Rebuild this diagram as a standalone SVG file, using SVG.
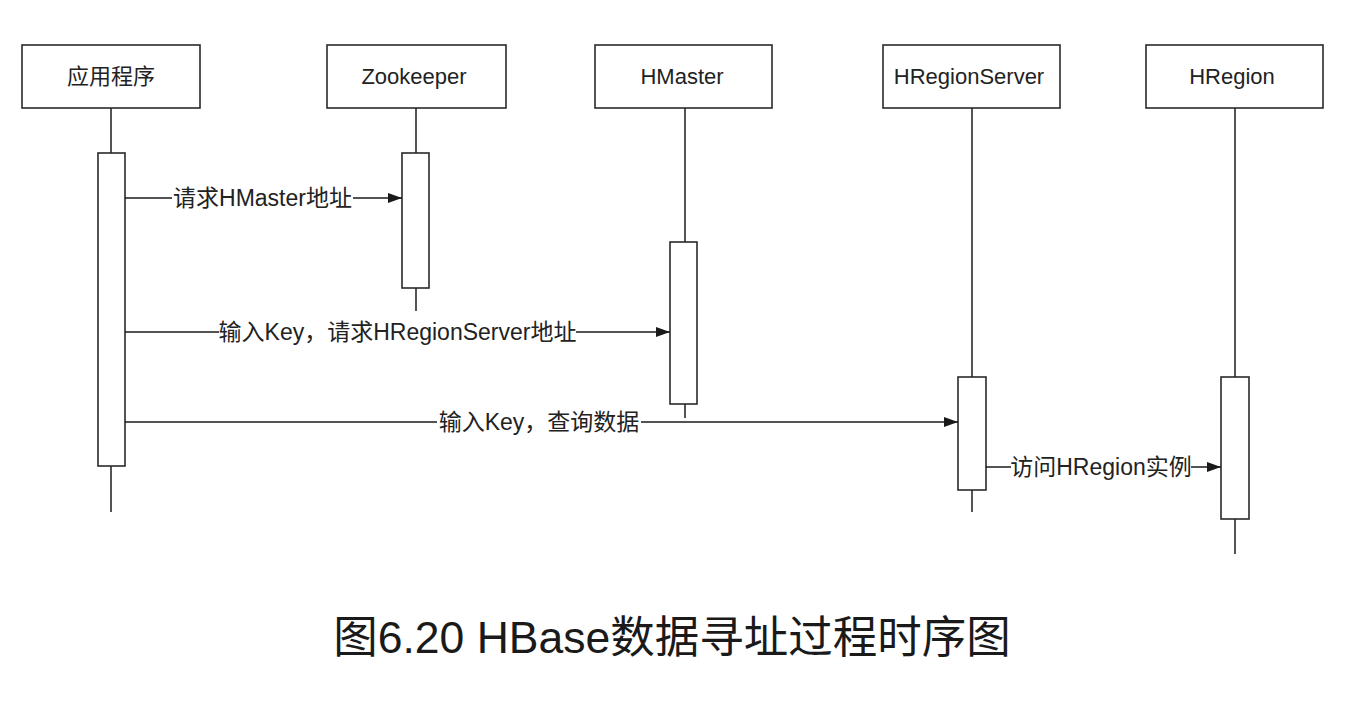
<svg xmlns="http://www.w3.org/2000/svg" width="1372" height="712" viewBox="0 0 1372 712">
<style>
.box{fill:#fff;stroke:#2a2a2a;stroke-width:1.6}
.life{stroke:#2a2a2a;stroke-width:1.6;fill:none}
.act{fill:#fff;stroke:#2a2a2a;stroke-width:1.6}
.msg{stroke:#1a1a1a;stroke-width:1.6;fill:none}
.t{font-family:"Liberation Sans","Noto Sans CJK SC",sans-serif;font-size:22px;fill:#222;text-anchor:middle}
.m{font-family:"Liberation Sans","Noto Sans CJK SC",sans-serif;font-size:23px;fill:#222;text-anchor:middle}
.bg{fill:#fff}
.title{font-family:"Liberation Sans","Noto Sans CJK SC",sans-serif;font-size:44.5px;fill:#1a1a1a;text-anchor:middle}
</style>
<defs>
<marker id="arr" viewBox="0 0 14 10" refX="14" refY="5" markerWidth="14" markerHeight="10" markerUnits="userSpaceOnUse" orient="auto">
<path d="M0,0 L14,5 L0,10 z" fill="#1a1a1a"/>
</marker>
</defs>
<rect width="1372" height="712" fill="#fff"/>

<g id="app">
<line class="life" x1="111" y1="108" x2="111" y2="512"/>
<rect class="box" x="22" y="45" width="178" height="63"/>
<text class="t" x="111" y="84">应用程序</text>
<rect class="act" x="98" y="153" width="27" height="313"/>
</g>
<g id="zookeeper">
<line class="life" x1="416" y1="108" x2="416" y2="311"/>
<rect class="box" x="327" y="45" width="179" height="63"/>
<text class="t" x="414" y="84">Zookeeper</text>
<rect class="act" x="402" y="153" width="27" height="135"/>
</g>
<g id="hmaster">
<line class="life" x1="685" y1="108" x2="685" y2="418"/>
<rect class="box" x="595" y="45" width="177" height="63"/>
<text class="t" x="682" y="84">HMaster</text>
<rect class="act" x="670" y="242" width="27" height="162"/>
</g>
<g id="hregionserver">
<line class="life" x1="972" y1="108" x2="972" y2="512"/>
<rect class="box" x="883" y="45" width="177" height="63"/>
<text class="t" x="969" y="84">HRegionServer</text>
<rect class="act" x="958" y="377" width="28" height="113"/>
</g>
<g id="hregion">
<line class="life" x1="1235" y1="108" x2="1235" y2="554"/>
<rect class="box" x="1146" y="45" width="177" height="63"/>
<text class="t" x="1232" y="84">HRegion</text>
<rect class="act" x="1221" y="377" width="28" height="142"/>
</g>

<g id="connectors">
<line class="msg" x1="125" y1="198" x2="402" y2="198" marker-end="url(#arr)"/>
<line class="msg" x1="125" y1="332" x2="670" y2="332" marker-end="url(#arr)"/>
<line class="msg" x1="125" y1="422" x2="958" y2="422" marker-end="url(#arr)"/>
<line class="msg" x1="986" y1="467" x2="1221" y2="467" marker-end="url(#arr)"/>
</g>

<g id="labels">
<rect class="bg" x="172" y="186" width="181" height="24"/>
<text class="m" x="262.5" y="206">请求HMaster地址</text>
<rect class="bg" x="219" y="320" width="357" height="24"/>
<text class="m" x="397.5" y="340">输入Key，请求HRegionServer地址</text>
<rect class="bg" x="437" y="410" width="204" height="24"/>
<text class="m" x="539" y="430">输入Key，查询数据</text>
<rect class="bg" x="1011" y="455" width="180" height="24"/>
<text class="m" x="1101" y="475">访问HRegion实例</text>
</g>

<text class="title" x="672" y="653">图6.20 HBase数据寻址过程时序图</text>
</svg>
